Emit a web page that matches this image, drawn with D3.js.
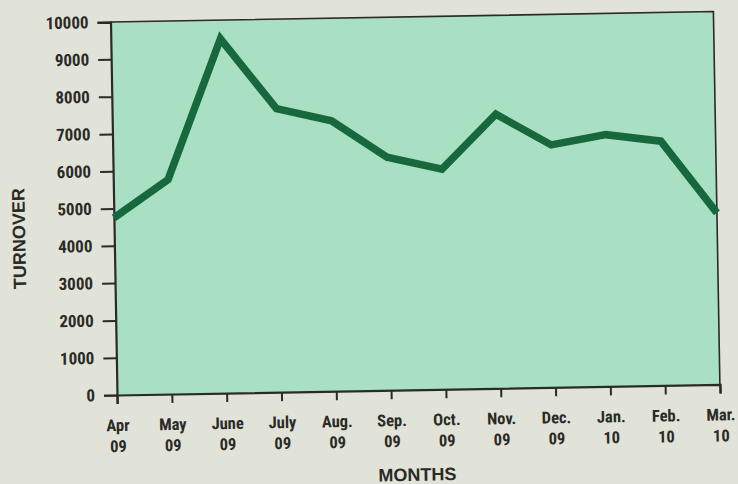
<!DOCTYPE html>
<html>
<head>
<meta charset="utf-8">
<script src="https://cdn.jsdelivr.net/npm/d3@7"></script>
<style>
  html, body { margin: 0; padding: 0; background: #e1e3d8; overflow: hidden; }
  svg { display: block; }
  text { font-weight: bold; fill: #2a2a26; }
  .narrow { font-family: "Liberation Sans Narrow", "Arial Narrow", "Roboto Condensed", "Liberation Sans", sans-serif; }
  .wide { font-family: "Liberation Sans", Arial, Helvetica, sans-serif; }
</style>
</head>
<body>
<svg id="chart" width="738" height="484"></svg>
<script>
// Monthly turnover, April 2009 – March 2010
const monthNames = ["Apr", "May", "June", "July", "Aug.", "Sep.", "Oct.", "Nov.", "Dec.", "Jan.", "Feb.", "Mar."];
const yearLabels = ["09", "09", "09", "09", "09", "09", "09", "09", "09", "10", "10", "10"];
const turnover   = [4750, 5750, 9500, 7600, 7250, 6250, 5900, 7350, 6500, 6750, 6550, 4600];
const yTicks     = [0, 1000, 2000, 3000, 4000, 5000, 6000, 7000, 8000, 9000, 10000];

const svg = d3.select("#chart");
const ink = "#2a2a26";
const origin = { x: 117, y: 395 };   // bottom-left corner of the plot
const innerW = 603, innerH = 373;

const x = d3.scalePoint().domain(d3.range(monthNames.length)).range([0, innerW]);
const y = d3.scaleLinear().domain([0, 10000]).range([innerH, 0]);

// the whole sheet sits a little askew
const sheet = svg.append("g")
  .attr("transform", `rotate(-1, ${origin.x}, ${origin.y})`);

const g = sheet.append("g")
  .attr("transform", `translate(${origin.x},${origin.y - innerH})`);

// plot panel
g.append("rect")
  .attr("x", 0).attr("y", 0)
  .attr("width", innerW).attr("height", innerH)
  .attr("fill", "#a9e0c3");

// top and right frame
g.append("path")
  .attr("d", `M0,0H${innerW}V${innerH}`)
  .attr("fill", "none").attr("stroke", ink).attr("stroke-width", 1.6);

// y axis
const yAxis = d3.axisLeft(y).tickValues(yTicks).tickSize(13).tickPadding(9).tickFormat(d3.format("d"));
const yg = g.append("g").call(yAxis);
yg.attr("font-family", null).attr("font-size", null);
yg.select(".domain").attr("stroke", ink).attr("stroke-width", 2.2);
yg.selectAll(".tick line").attr("stroke", ink).attr("stroke-width", 2);
yg.selectAll(".tick text")
  .attr("class", "narrow")
  .attr("font-size", 17)
  .attr("fill", ink);

// x axis
const xAxis = d3.axisBottom(x).tickSize(9).tickFormat("");
const xg = g.append("g").attr("transform", `translate(0,${innerH})`).call(xAxis);
xg.attr("font-family", null).attr("font-size", null);
xg.select(".domain").attr("stroke", ink).attr("stroke-width", 2.2);
xg.selectAll(".tick line").attr("stroke", ink).attr("stroke-width", 2);
xg.selectAll(".tick text").remove();
xg.selectAll(".tick").each(function (d) {
  const t = d3.select(this).append("text")
    .attr("class", "narrow")
    .attr("text-anchor", "middle")
    .attr("font-size", 16.5)
    .attr("fill", ink);
  t.append("tspan").attr("x", 0).attr("y", 36).text(monthNames[d]);
  t.append("tspan").attr("x", 0).attr("y", 57).text(yearLabels[d]);
});

// turnover line
const line = d3.line()
  .x((d, i) => x(i))
  .y(d => y(d));

g.append("path")
  .datum(turnover)
  .attr("d", line)
  .attr("fill", "none")
  .attr("stroke", "#17683c")
  .attr("stroke-width", 7.5)
  .attr("stroke-linejoin", "miter")
  .attr("stroke-linecap", "butt");

// axis titles
sheet.append("text")
  .attr("class", "wide")
  .attr("x", 416).attr("y", 486)
  .attr("text-anchor", "middle")
  .attr("font-size", 18)
  .text("MONTHS");

sheet.append("text")
  .attr("class", "wide")
  .attr("transform", "translate(28,237) rotate(-90)")
  .attr("text-anchor", "middle")
  .attr("font-size", 18)
  .text("TURNOVER");
</script>
</body>
</html>
